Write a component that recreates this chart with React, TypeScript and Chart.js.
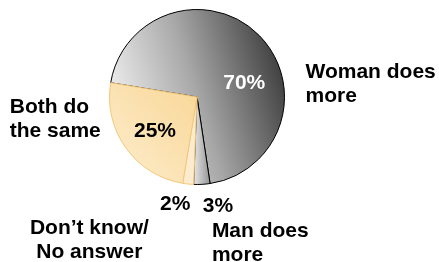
import React, { useEffect, useRef } from 'react';
import { Chart, registerables } from 'chart.js';

Chart.register(...registerables);

const categories = ['Woman does more', 'Man does more', 'Don’t know/No answer', 'Both do the same'];
const values = [70, 3, 2, 25];
const percentLabels = ['70%', '3%', '2%', '25%'];
const categoryLines = [
  ['Woman does', 'more'],
  ['Man does', 'more'],
  ['Don’t know/', 'No answer'],
  ['Both do', 'the same'],
];

const FONT = 'bold 21px "Liberation Sans", Arial, sans-serif';
const LINE_H = 24;

// label anchors in units of the pie radius, relative to the pie centre
const pctPos = [
  [0.54, -0.16],
  [0.24, 1.25],
  [-0.25, 1.23],
  [-0.48, 0.39],
];
const catPos: [number, number, CanvasTextAlign][] = [
  [1.24, -0.22, 'left'],
  [0.17, 1.6, 'left'],
  [-1.23, 1.56, 'center'],
  [-2.14, 0.18, 'left'],
];

function geom(chart: any) {
  const a = chart.chartArea;
  const cx = (a.left + a.right) / 2;
  const cy = (a.top + a.bottom) / 2;
  const r = Math.min(a.right - a.left, a.bottom - a.top) / 2;
  return { cx, cy, r };
}

const labelPlugin = {
  id: 'labels',
  afterDatasetsDraw(chart: any) {
    const meta = chart.getDatasetMeta(0);
    const a = meta.data[0];
    if (!a) return;
    const { x: cx, y: cy, outerRadius: r } = a.getProps(['x', 'y', 'outerRadius'], true);
    const ctx = chart.ctx;
    ctx.save();
    ctx.font = FONT;
    ctx.textBaseline = 'middle';
    ctx.textAlign = 'center';
    percentLabels.forEach((t, i) => {
      ctx.fillStyle = i === 0 ? '#ffffff' : '#000000';
      ctx.fillText(t, cx + pctPos[i][0] * r, cy + pctPos[i][1] * r);
    });
    ctx.textBaseline = 'alphabetic';
    ctx.fillStyle = '#000000';
    categoryLines.forEach((lines, i) => {
      ctx.textAlign = catPos[i][2];
      lines.forEach((ln, j) => {
        ctx.fillText(ln, cx + catPos[i][0] * r, cy + catPos[i][1] * r + j * LINE_H);
      });
    });
    ctx.restore();
  },
};

function makeFill(ctx: any) {
  const chart = ctx.chart;
  const i = ctx.dataIndex;
  if (!chart.chartArea) return '#cccccc';
  const { cx, cy, r } = geom(chart);
  const c = chart.ctx;
  if (i === 0) {
    const g = c.createLinearGradient(cx - r, cy + 0.3 * r, cx + r, cy - 0.3 * r);
    g.addColorStop(0, '#f6f6f6');
    g.addColorStop(0.5, '#a8a8a8');
    g.addColorStop(1, '#3e3e3e');
    return g;
  }
  if (i === 1) {
    const g = c.createLinearGradient(cx - 0.05 * r, cy, cx + 0.16 * r, cy);
    g.addColorStop(0, '#ececec');
    g.addColorStop(1, '#8e8e8e');
    return g;
  }
  if (i === 2) return '#fdebcf';
  const g = c.createLinearGradient(cx - r, cy + 0.8 * r, cx, cy - 0.1 * r);
  g.addColorStop(0, '#fdebc9');
  g.addColorStop(1, '#f9d899');
  return g;
}

export default function App() {
  const ref = useRef<HTMLCanvasElement>(null);
  useEffect(() => {
    document.body.style.margin = '0';
    const chart = new Chart(ref.current!, {
      type: 'pie',
      data: {
        labels: categories,
        datasets: [
          {
            data: values,
            backgroundColor: makeFill as any,
            borderColor: ['#000000', '#000000', '#f2c878', '#f2c878'],
            borderWidth: [1, 1, 1, 1],
          },
        ],
      },
      options: {
        animation: false,
        responsive: false,
        rotation: -80.6,
        layout: { padding: { top: 9, bottom: 77, left: 109, right: 154 } },
        plugins: { legend: { display: false }, tooltip: { enabled: false } },
      },
      plugins: [labelPlugin],
    });
    return () => chart.destroy();
  }, []);
  return (
    <div style={{ position: 'absolute', left: 0, top: 0, width: 439, height: 262, background: '#fff' }}>
      <canvas ref={ref} width={439} height={262} />
    </div>
  );
}
